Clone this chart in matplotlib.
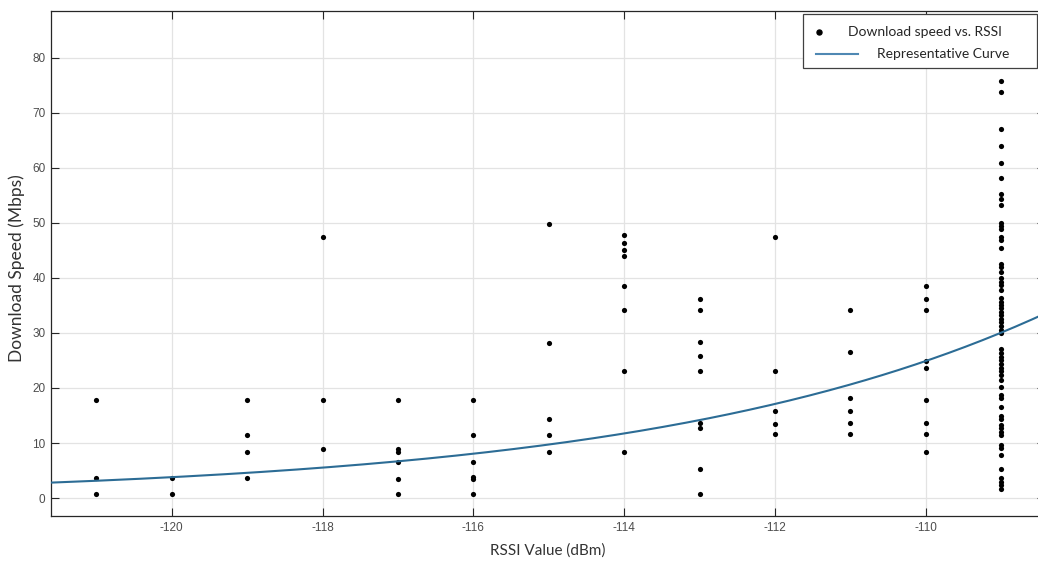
import numpy as np
import matplotlib
matplotlib.use("Agg")
import matplotlib.pyplot as plt
from matplotlib.patches import Rectangle
from matplotlib.lines import Line2D

plt.rcParams["axes.unicode_minus"] = False

# ---- measured data: download speed (Mbps) at each RSSI level (dBm) ----
rssi_levels = [-121, -120, -119, -118, -117, -116, -115, -114, -113, -112, -111, -110, -109]
speeds_by_level = [
    [17.8, 3.6, 0.8],
    [3.6, 0.8],
    [17.8, 11.4, 8.3, 3.6],
    [47.5, 17.8, 8.9],
    [17.8, 8.9, 8.3, 6.5, 3.5, 0.8],
    [17.8, 11.4, 6.5, 3.8, 3.4, 0.8],
    [49.8, 28.1, 14.3, 11.4, 8.3],
    [47.7, 46.4, 45.1, 44.0, 38.5, 34.1, 23.0, 8.3],
    [36.2, 34.1, 28.3, 25.8, 23.0, 13.7, 12.8, 5.2, 0.8],
    [47.5, 23.0, 15.9, 13.4, 11.6],
    [34.1, 26.5, 18.1, 15.9, 13.7, 11.6],
    [38.5, 36.2, 34.1, 24.9, 23.7, 17.9, 13.7, 11.6, 8.3],
    [75.7, 73.7, 67.1, 63.9, 60.8, 58.1, 55.2, 54.3, 53.3, 50.0, 49.4, 48.8,
     47.5, 46.8, 45.5, 42.6, 41.9, 41.0, 40.0, 39.3, 38.7, 37.7, 36.4, 35.6,
     35.1, 34.5, 33.8, 33.2, 32.5, 31.9, 31.2, 30.6, 29.9, 27.0, 26.3, 25.7,
     25.0, 24.4, 23.7, 23.1, 22.4, 21.5, 20.2, 18.8, 18.2, 16.6, 14.9, 14.3,
     13.3, 12.7, 12.0, 11.4, 9.7, 9.1, 7.8, 5.2, 3.6, 2.9, 2.3, 1.6],
]

# representative exponential curve: speed = curve_ref_speed * exp(curve_rate * (rssi - curve_ref_rssi))
curve_ref_rssi = -110.0
curve_ref_speed = 24.9
curve_rate = 0.188

x_ticks = [-120, -118, -116, -114, -112, -110]
y_ticks = [0, 10, 20, 30, 40, 50, 60, 70, 80]
x_limits = (-121.6, -108.42)
y_limits = (-3.25, 88.45)

rssi = np.concatenate([[lvl] * len(s) for lvl, s in zip(rssi_levels, speeds_by_level)])
speed = np.concatenate(speeds_by_level)

W, H = 1038, 562
fig = plt.figure(figsize=(W / 100, H / 100), dpi=100)
fig.patch.set_facecolor("white")


def fx(px):
    return px / W


def fy(py):
    return 1 - py / H


ax = fig.add_axes([fx(51), fy(516), fx(1045) - fx(51), fy(11) - fy(516)])
ax.set_xlim(*x_limits)
ax.set_ylim(*y_limits)
ax.set_xticks(x_ticks)
ax.set_yticks(y_ticks)

ax.grid(True, color="#e3e3e3", linewidth=0.9)
ax.set_axisbelow(True)
for sp in ax.spines.values():
    sp.set_color("#262626")
    sp.set_linewidth(0.9)
ax.tick_params(direction="in", length=6, width=0.8, color="#262626",
               top=True, right=True, labelsize=8.5, labelcolor="#4d4d4d")
ax.tick_params(axis="y", pad=4)
ax.tick_params(axis="x", pad=4)
for lab in ax.get_xticklabels() + ax.get_yticklabels():
    lab.set_family("Liberation Sans")

ax.scatter(rssi, speed, s=14, color="black", linewidths=0, zorder=3)

xs = np.linspace(x_limits[0], x_limits[1], 300)
curve_color = "#2c6c95"
ax.plot(xs, curve_ref_speed * np.exp(curve_rate * (xs - curve_ref_rssi)),
        color=curve_color, linewidth=1.5, zorder=4)

label_font = dict(family="Lato", color="#333333")
fig.text(fx(17), fy(268), "Download Speed (Mbps)", rotation=90, ha="center", va="center",
         fontsize=12.5, **label_font)
fig.text(fx(548), fy(551), "RSSI Value (dBm)", ha="center", va="center",
         fontsize=11, **label_font)

# legend box
leg = Rectangle((fx(803), fy(68)), fx(1037) - fx(803), fy(14) - fy(68),
                transform=fig.transFigure, facecolor="white", edgecolor="#404040",
                linewidth=0.9, zorder=10)
fig.add_artist(leg)
fig.add_artist(Line2D([fx(819)], [fy(32)], marker="o", markersize=3.6, color="black",
                      linestyle="none", transform=fig.transFigure, zorder=11))
fig.add_artist(Line2D([fx(816), fx(858)], [fy(54), fy(54)], color="#4f88b3", linewidth=1.5,
                      transform=fig.transFigure, zorder=11))
fig.text(fx(848), fy(32), "Download speed vs. RSSI", ha="left", va="center",
         fontsize=10, family="Lato", color="#262626", zorder=12)
fig.text(fx(877), fy(54), "Representative Curve", ha="left", va="center",
         fontsize=10, family="Lato", color="#262626", zorder=12)

fig.savefig("out.png", dpi=100, facecolor="white")
